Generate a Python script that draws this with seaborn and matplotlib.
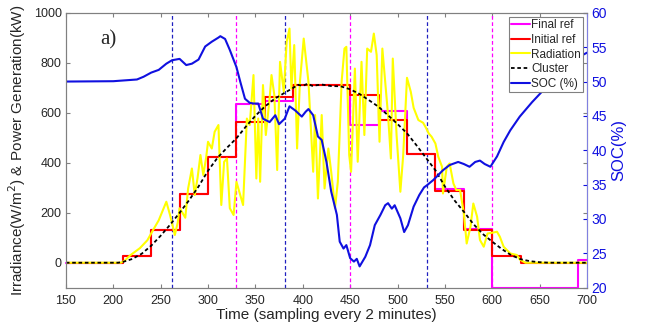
import matplotlib
matplotlib.use("Agg")
import matplotlib.pyplot as plt
import numpy as np
import pandas as pd
import seaborn as sns

# step references (value held from edge i to edge i+1)
step_t = [150, 210, 240, 270, 300, 330, 360, 390, 420, 450, 480, 510, 540, 570, 600, 630, 690, 700]
initial_ref = [0, 28, 130, 276, 425, 563, 665, 712, 712, 672, 572, 435, 288, 130, 28, 0, 0, 0]
final_ref = [0, 28, 130, 276, 425, 635, 648, 712, 712, 553, 607, 437, 294, 133, -100, -100, 12, 12]

# radiation (yellow)
rad_t = [150, 208, 212, 218, 228, 236, 241, 248, 256, 260, 265, 268, 270, 273, 276, 279, 283, 286, 289,
         292, 295, 298, 300, 304, 307, 311, 314, 317, 320, 323, 327, 330, 334, 337, 341, 344, 348, 351,
         353, 355, 358, 361, 365, 367, 370, 373, 376, 380, 383, 386, 388, 391, 394, 397, 401, 406, 411,
         413, 416, 420, 423, 427, 430, 434, 437, 441, 444, 446, 449, 451, 455, 458, 462, 465, 468, 472,
         475, 478, 481, 484, 487, 490, 493, 495, 499, 503, 506, 510, 514, 517, 522, 527, 530, 533, 536,
         540, 543, 547, 548, 552, 555, 559, 562, 566, 570, 573, 577, 580, 584, 587, 591, 595, 600, 605,
         608, 612, 619, 626, 629, 635, 700]
rad_v = [0, 0, 8, 30, 58, 90, 124, 170, 244, 190, 111, 160, 218, 200, 180, 297, 377, 271, 340,
         431, 351, 420, 484, 457, 524, 551, 231, 404, 417, 218, 191, 324, 271, 231, 577, 551, 751, 337,
         577, 324, 711, 511, 657, 751, 671, 371, 804, 684, 884, 937, 697, 871, 457, 724, 897, 724, 364,
         591, 257, 591, 297, 457, 364, 218, 324, 724, 857, 864, 431, 364, 777, 404, 804, 511, 857, 844,
         917, 831, 484, 857, 724, 591, 417, 817, 511, 284, 431, 740, 684, 620, 571, 560, 540, 517, 504,
         477, 424, 384, 277, 384, 397, 317, 291, 291, 197, 77, 144, 237, 184, 91, 64, 117, 120, 124,
         104, 64, 37, 31, 13, 0, 0]

# cluster (black dashed)
clu_t = [150, 205, 210, 220, 230, 240, 250, 260, 270, 280, 290, 300, 310, 320, 330, 340, 350, 360, 370,
         380, 390, 395, 400, 405, 410, 420, 430, 440, 450, 460, 470, 480, 490, 500, 510, 520, 530, 540,
         550, 560, 570, 580, 590, 600, 610, 620, 630, 640, 650, 660, 700]
clu_v = [0, 0, 3, 15, 36, 68, 108, 152, 200, 250, 305, 368, 420, 460, 498, 545, 588, 625, 655,
         678, 700, 712, 708, 716, 708, 713, 707, 706, 694, 675, 650, 624, 590, 555, 518, 470, 420, 370,
         305, 250, 204, 155, 115, 84, 55, 30, 14, 6, 2, 0, 0]

# battery state of charge (right axis)
soc_t = [150, 200, 225, 232, 240, 248, 256, 262, 270, 277, 283, 290, 297, 304, 311, 313, 318, 323, 330,
         334, 339, 344, 348, 353, 358, 365, 371, 375, 381, 386, 392, 399, 403, 406, 411, 416, 420, 425,
         430, 436, 439, 443, 446, 450, 454, 457, 460, 466, 471, 476, 482, 487, 490, 494, 497, 503, 507,
         511, 517, 523, 528, 531, 538, 548, 555, 564, 570, 576, 582, 587, 592, 598, 605, 612, 619, 629,
         642, 657, 671, 689, 700]
soc_v = [50.0, 50.05, 50.3, 50.7, 51.3, 51.7, 52.6, 53.1, 53.3, 52.4, 52.6, 53.2, 55.1, 55.8, 56.4, 56.6,
         56.2, 54.6, 52.1, 50.0, 47.5, 46.9, 46.8, 46.8, 44.6, 44.1, 45.1, 43.8, 44.6, 46.4, 45.8, 44.9,
         45.6, 46.0, 45.1, 42.0, 41.5, 38.3, 34.0, 30.6, 26.7, 25.7, 26.2, 24.3, 23.8, 24.2, 23.1, 24.5,
         26.2, 29.1, 30.6, 32.0, 32.3, 31.5, 32.0, 30.1, 28.1, 29.1, 31.8, 33.5, 34.6, 34.9, 35.7, 37.1,
         37.85, 38.3, 38.0, 37.6, 38.3, 38.5, 38.0, 37.6, 39.1, 41.2, 42.9, 44.9, 47.0, 49.2, 51.4, 53.4, 54.2]

blue_cuts = [262, 381, 531]
magenta_cuts = [330, 450, 600]

sns.set_style("ticks")
plt.rcParams['font.family'] = ['Liberation Sans', 'DejaVu Sans']

fig = plt.figure(figsize=(6.46, 3.29), dpi=100)
ax = fig.add_axes([0.102, 0.1255, 0.8067, 0.8355])
ax2 = ax.twinx()

for c in blue_cuts:
    ax.axvline(c, color="#2020c0", lw=0.9, ls=(0, (3, 2)))
for c in magenta_cuts:
    ax.axvline(c, color="#ff00ff", lw=0.9, ls=(0, (3, 2)))

steps = pd.DataFrame({'t': step_t, 'final': final_ref, 'initial': initial_ref})
sns.lineplot(data=steps, x='t', y='final', ax=ax, color="#ff00ff", lw=1.5,
             drawstyle='steps-post', clip_on=False, estimator=None, sort=False)
sns.lineplot(data=steps, x='t', y='initial', ax=ax, color="#ff0000", lw=1.5,
             drawstyle='steps-post', estimator=None, sort=False)
sns.lineplot(x=rad_t, y=rad_v, ax=ax, color="#ffff00", lw=1.5, estimator=None, sort=False)
sns.lineplot(x=clu_t, y=clu_v, ax=ax, color="black", lw=1.3, ls=(0, (2, 1.5)),
             estimator=None, sort=False)
sns.lineplot(x=soc_t, y=soc_v, ax=ax2, color="#1010e0", lw=1.5, estimator=None, sort=False)

ax.set_xlim(150, 700)
ax.set_ylim(-100, 1000)
ax.set_xticks(np.arange(150, 701, 50))
ax.set_yticks(np.arange(0, 1001, 200))
ax2.set_ylim(20, 60)
ax2.set_yticks(np.arange(20, 61, 5))

ax.set_xlabel("Time (sampling every 2 minutes)", fontsize=11, labelpad=1)
ax.set_ylabel("Irradiance(W/m$^2$) & Power Generation(kW)", fontsize=11, labelpad=4)
ax2.set_ylabel("SOC(%)", fontsize=12, color="#1010e0", labelpad=3)

ax.tick_params(direction='in', top=True, right=True, labelsize=9, length=3, color="#808080")
ax.tick_params(axis='x', pad=5)
ax.tick_params(axis='y', pad=3)
ax2.tick_params(direction='in', labelsize=10, length=3, colors="#1010e0", pad=3)
for s in ax.spines.values():
    s.set_color("#808080")
    s.set_linewidth(0.8)
for s in ax2.spines.values():
    s.set_color("#808080")
    s.set_linewidth(0.8)
ax2.spines['right'].set_color("#8080e0")

ax.text(186, 891, "a)", fontsize=15, family='Liberation Serif', va='center', ha='left')

handles = [plt.Line2D([], [], color="#ff00ff", lw=1.5),
           plt.Line2D([], [], color="#ff0000", lw=1.5),
           plt.Line2D([], [], color="#ffff00", lw=1.5),
           plt.Line2D([], [], color="black", lw=1.3, ls=(0, (2, 1.5))),
           plt.Line2D([], [], color="#1010e0", lw=1.5)]
labels = ["Final ref", "Initial ref", "Radiation", "Cluster", "SOC (%)"]
leg = ax2.legend(handles, labels, loc='upper right', bbox_to_anchor=(0.993, 0.985), fontsize=8.5,
                 frameon=True, fancybox=False, framealpha=1, edgecolor="#808080",
                 handlelength=1.6, handletextpad=0.1, borderpad=0.2, labelspacing=0.22,
                 borderaxespad=0)
leg.get_frame().set_linewidth(0.8)

fig.savefig("out.png", dpi=100)
